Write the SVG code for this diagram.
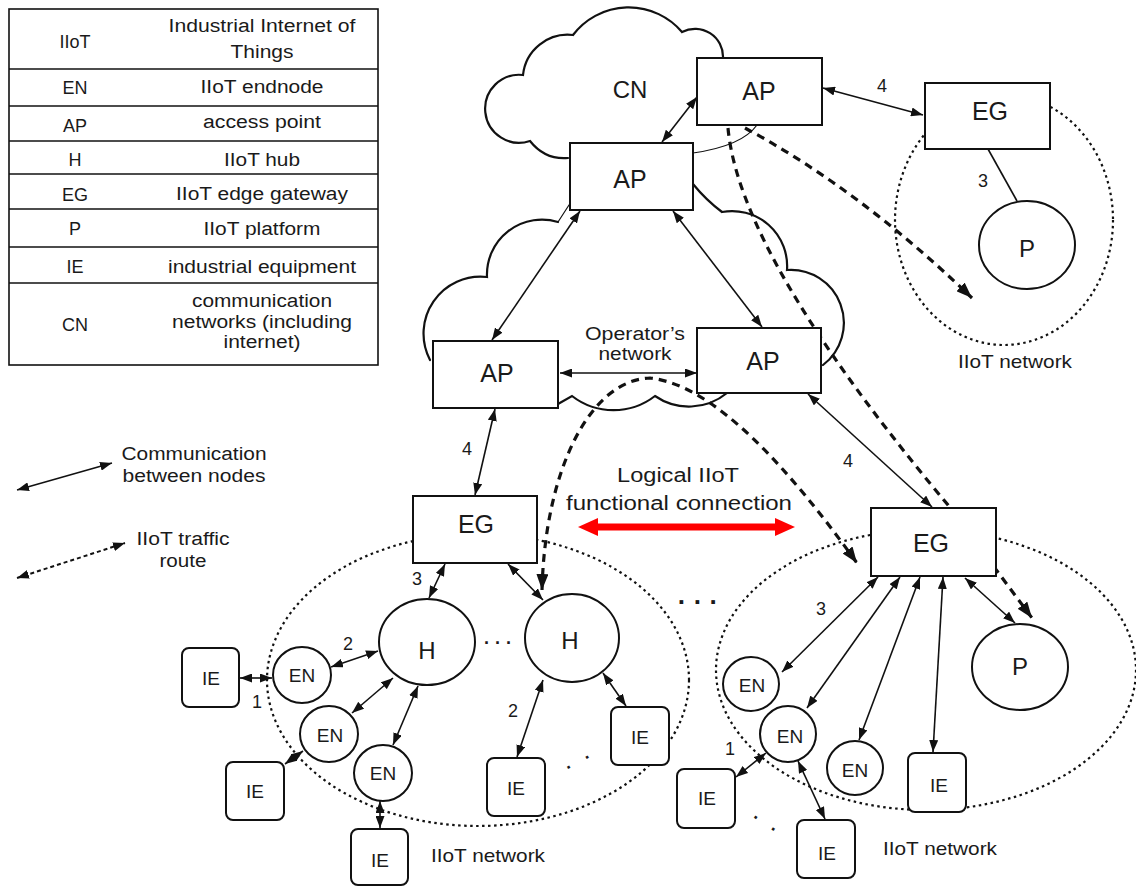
<svg xmlns="http://www.w3.org/2000/svg" width="1136" height="886" viewBox="0 0 1136 886">
  <style>
    .box { fill:#fff; stroke:#111; stroke-width:2; }
    .node { fill:#fff; stroke:#111; stroke-width:2; }
    .cloud { fill:none; stroke:#111; stroke-width:2.2; stroke-linecap:round; }
    .thin { stroke-width:1.2; }
    .net { fill:none; stroke:#111; stroke-width:2.2; stroke-dasharray:2.5 3.5; }
    .link { fill:none; stroke:#111; stroke-width:1.6; marker-start:url(#ah); marker-end:url(#ah); }
    .route { fill:none; stroke:#111; stroke-width:3.2; stroke-dasharray:8 6; }
    .plain { fill:none; stroke:#111; stroke-width:1.6; }
    .t { font-family:"Liberation Sans", Arial, sans-serif; fill:#1a1a1a; text-anchor:middle; }
    .lg { font-size:18px; }
    .lab { font-size:25px; }
    .sm { font-size:19px; }
    .num { font-size:18px; }
    .dots { font-size:18px; font-weight:bold; }
    .wide { word-spacing:10px; }
  </style>
  <defs>
    <marker id="ah" viewBox="0 0 12 9" markerWidth="12" markerHeight="9" refX="12" refY="4.5" orient="auto-start-reverse" markerUnits="userSpaceOnUse">
      <path d="M0,0 L12,4.5 L0,9 z" fill="#111"/>
    </marker>
    <marker id="ahd" viewBox="0 0 16 12" markerWidth="16" markerHeight="12" refX="16" refY="6" orient="auto-start-reverse" markerUnits="userSpaceOnUse">
      <path d="M0,0 L16,6 L0,12 z" fill="#111"/>
    </marker>
    <marker id="ahr" viewBox="0 0 20 18" markerWidth="20" markerHeight="18" refX="4" refY="9" orient="auto-start-reverse" markerUnits="userSpaceOnUse">
      <path d="M0,0 L20,9 L0,18 z" fill="#f00"/>
    </marker>
  </defs>
  <rect width="1136" height="886" fill="#fff"/>

  <!-- abbreviation table -->
  <g id="legend-table">
    <rect x="9" y="9" width="369" height="356" fill="#fff" stroke="#111" stroke-width="1.6"/>
    <g stroke="#111" stroke-width="1.6">
      <line x1="9" y1="69" x2="378" y2="69"/>
      <line x1="9" y1="106" x2="378" y2="106"/>
      <line x1="9" y1="141" x2="378" y2="141"/>
      <line x1="9" y1="174" x2="378" y2="174"/>
      <line x1="9" y1="209" x2="378" y2="209"/>
      <line x1="9" y1="247" x2="378" y2="247"/>
      <line x1="9" y1="283" x2="378" y2="283"/>
    </g>
    <g class="t lg">
      <text x="75" y="48">IIoT</text>
      <text x="75" y="94">EN</text>
      <text x="75" y="132">AP</text>
      <text x="75" y="166">H</text>
      <text x="75" y="201">EG</text>
      <text x="75" y="235">P</text>
      <text x="75" y="273">IE</text>
      <text x="75" y="331">CN</text>
      <text x="262" y="32" textLength="187" lengthAdjust="spacingAndGlyphs">Industrial Internet of</text>
      <text x="262" y="58" textLength="63" lengthAdjust="spacingAndGlyphs">Things</text>
      <text x="262" y="93" textLength="123" lengthAdjust="spacingAndGlyphs">IIoT endnode</text>
      <text x="262" y="128" textLength="118" lengthAdjust="spacingAndGlyphs">access point</text>
      <text x="262" y="166" textLength="76" lengthAdjust="spacingAndGlyphs">IIoT hub</text>
      <text x="262" y="200" textLength="172" lengthAdjust="spacingAndGlyphs">IIoT edge gateway</text>
      <text x="262" y="235" textLength="117" lengthAdjust="spacingAndGlyphs">IIoT platform</text>
      <text x="262" y="273" textLength="188" lengthAdjust="spacingAndGlyphs">industrial equipment</text>
      <text x="262" y="307" textLength="140" lengthAdjust="spacingAndGlyphs">communication</text>
      <text x="262" y="328" textLength="180" lengthAdjust="spacingAndGlyphs">networks (including</text>
      <text x="262" y="348" textLength="77" lengthAdjust="spacingAndGlyphs">internet)</text>
    </g>
  </g>

  <!-- line style key -->
  <g id="legend-lines">
    <line class="link" x1="17" y1="490" x2="112" y2="463"/>
    <line x1="17" y1="578" x2="125" y2="543" fill="none" stroke="#111" stroke-width="2" stroke-dasharray="4 3" marker-start="url(#ah)" marker-end="url(#ah)"/>
    <g class="t lg">
      <text x="194" y="460" textLength="145" lengthAdjust="spacingAndGlyphs">Communication</text>
      <text x="194" y="482" textLength="143" lengthAdjust="spacingAndGlyphs">between nodes</text>
      <text x="183" y="545" textLength="93" lengthAdjust="spacingAndGlyphs">IIoT traffic</text>
      <text x="183" y="567" textLength="47" lengthAdjust="spacingAndGlyphs">route</text>
    </g>
  </g>

  <!-- clouds -->
  <g id="cloud-cn">
    <path class="cloud" d="M568,158 Q545,160 530,141 A34,34 0 1 1 523,75 A45,45 0 0 1 573,35 A70,70 0 0 1 682,32 A28,28 0 0 1 723,58"/>
    <path class="cloud thin" d="M757,125 Q742,146 693,153"/>
    <text class="t" x="630" y="98" font-size="24">CN</text>
  </g>
  <g id="cloud-operator">
    <path class="cloud thin" d="M569,205 L558,222"/>
    <path class="cloud" d="M558,222 A55,55 0 0 0 487,277 A57,57 0 0 0 430,360"/>
    <path class="cloud" d="M558,404 L572,396 A68,68 0 0 0 655,396 A60,60 0 0 0 727,393"/>
    <path class="cloud" d="M693,184 Q706,200 722,212 A55,55 0 0 1 787,270 A53,53 0 0 1 823,365"/>
    <g class="t lg">
      <text x="635" y="340" textLength="100" lengthAdjust="spacingAndGlyphs">Operator’s</text>
      <text x="635" y="360" textLength="73" lengthAdjust="spacingAndGlyphs">network</text>
    </g>
  </g>

  <!-- IIoT network boundaries -->
  <g id="networks">
    <ellipse class="net" cx="1004" cy="220" rx="109" ry="125"/>
    <ellipse class="net" cx="478" cy="680" rx="211" ry="146"/>
    <ellipse class="net" cx="926" cy="670" rx="210" ry="140"/>
    <g class="t sm">
      <text x="1015" y="368" textLength="114" lengthAdjust="spacingAndGlyphs">IIoT network</text>
      <text x="488" y="862" textLength="114" lengthAdjust="spacingAndGlyphs">IIoT network</text>
      <text x="940" y="855" textLength="114" lengthAdjust="spacingAndGlyphs">IIoT network</text>
    </g>
  </g>

  <!-- connectors -->
  <g id="connectors">
    <line class="link" x1="662" y1="142" x2="697" y2="97"/>
    <line class="link" x1="823" y1="88" x2="923" y2="115"/>
    <line class="plain" x1="988" y1="149" x2="1017" y2="201"/>
    <line class="link" x1="580" y1="211" x2="492" y2="340"/>
    <line class="link" x1="673" y1="211" x2="762" y2="327"/>
    <line class="link" x1="560" y1="373" x2="697" y2="373"/>
    <line class="link" x1="495" y1="409" x2="475" y2="495"/>
    <line class="link" x1="808" y1="394" x2="932" y2="507"/>

    <line class="link" x1="445" y1="564" x2="429" y2="598"/>
    <line class="link" x1="508" y1="564" x2="543" y2="600"/>
    <line class="link" x1="378" y1="651" x2="331" y2="667"/>
    <line class="link" x1="240" y1="678" x2="272" y2="678"/>
    <line class="link" x1="393" y1="678" x2="352" y2="713"/>
    <line class="link" x1="303" y1="751" x2="285" y2="764"/>
    <line class="link" x1="418" y1="686" x2="393" y2="745"/>
    <line class="link" x1="380" y1="801" x2="380" y2="828"/>
    <line class="link" x1="543" y1="680" x2="517" y2="757"/>
    <line class="link" x1="603" y1="673" x2="626" y2="706"/>

    <line class="link" x1="878" y1="577" x2="782" y2="672"/>
    <line class="link" x1="900" y1="577" x2="807" y2="708"/>
    <line class="link" x1="920" y1="577" x2="859" y2="740"/>
    <line class="link" x1="943" y1="577" x2="933" y2="752"/>
    <line class="link" x1="965" y1="578" x2="1015" y2="623"/>
    <line class="link" x1="766" y1="753" x2="736" y2="777"/>
    <line class="link" x1="798" y1="761" x2="825" y2="819"/>

    <!-- traffic routes -->
    <path class="route" d="M745,128 Q860,190 972,298" marker-end="url(#ahd)"/>
    <path class="route" d="M728,128 C738,240 860,400 948,505 L1032,618" marker-end="url(#ahd)"/>
    <path class="route" d="M542,590 C545,470 590,380 650,378 C715,385 790,470 857,563" marker-start="url(#ahd)" marker-end="url(#ahd)"/>

    <!-- logical functional connection -->
    <line x1="594" y1="527" x2="779" y2="527" stroke="#f00" stroke-width="7" marker-start="url(#ahr)" marker-end="url(#ahr)"/>
    <g class="t">
      <text x="678" y="482" font-size="20" textLength="122" lengthAdjust="spacingAndGlyphs">Logical IIoT</text>
      <text x="679" y="510" font-size="20" textLength="226" lengthAdjust="spacingAndGlyphs">functional connection</text>
    </g>

    <!-- link numbers -->
    <g class="t num">
      <text x="882" y="92">4</text>
      <text x="983" y="187">3</text>
      <text x="467" y="455">4</text>
      <text x="848" y="467">4</text>
      <text x="417" y="585">3</text>
      <text x="348" y="650">2</text>
      <text x="257" y="708">1</text>
      <text x="513" y="717">2</text>
      <text x="821" y="615">3</text>
      <text x="730" y="755">1</text>
    </g>

    <!-- ellipses -->
    <g class="t dots">
      <text x="498" y="649">· · ·</text>
      <text x="698" y="611" font-size="26">· · ·</text>
      <text class="wide" x="578.5" y="768" transform="rotate(-28 578.5 762.5)">· ·</text>
      <text class="wide" x="764.5" y="829.5" transform="rotate(34 764.5 824)">· ·</text>
    </g>
  </g>

  <!-- access points -->
  <g id="ap-cn">
    <rect class="box" x="697" y="58" width="125" height="67"/>
    <text class="t lab" x="759" y="100">AP</text>
  </g>
  <g id="ap-top">
    <rect class="box" x="570" y="143" width="123" height="67"/>
    <text class="t lab" x="630" y="188">AP</text>
  </g>
  <g id="ap-left">
    <rect class="box" x="433" y="341" width="125" height="67"/>
    <text class="t lab" x="497" y="382">AP</text>
  </g>
  <g id="ap-right">
    <rect class="box" x="697" y="328" width="124" height="65"/>
    <text class="t lab" x="763" y="370">AP</text>
  </g>

  <!-- edge gateways -->
  <g id="eg-top">
    <rect class="box" x="925" y="83" width="125" height="66"/>
    <text class="t lab" x="990" y="120">EG</text>
  </g>
  <g id="eg-left">
    <rect class="box" x="413" y="496" width="124" height="67"/>
    <text class="t lab" x="476" y="533">EG</text>
  </g>
  <g id="eg-right">
    <rect class="box" x="871" y="508" width="125" height="68"/>
    <text class="t lab" x="931" y="552">EG</text>
  </g>

  <!-- platforms -->
  <g id="p-top">
    <ellipse class="node" cx="1027" cy="245" rx="48" ry="44"/>
    <text class="t" x="1027" y="257" font-size="24">P</text>
  </g>
  <g id="p-right">
    <ellipse class="node" cx="1020" cy="667" rx="48" ry="43"/>
    <text class="t" x="1020" y="675" font-size="24">P</text>
  </g>

  <!-- hubs -->
  <g id="hub-1">
    <ellipse class="node" cx="427" cy="642" rx="48" ry="43"/>
    <text class="t" x="427" y="659" font-size="24">H</text>
  </g>
  <g id="hub-2">
    <ellipse class="node" cx="572" cy="638" rx="47" ry="44"/>
    <text class="t" x="570" y="649" font-size="24">H</text>
  </g>

  <!-- end nodes -->
  <g id="en-1">
    <ellipse class="node" cx="302" cy="675" rx="29" ry="28"/>
    <text class="t sm" x="302" y="682">EN</text>
  </g>
  <g id="en-2">
    <ellipse class="node" cx="329" cy="734" rx="29" ry="28"/>
    <text class="t sm" x="330" y="742">EN</text>
  </g>
  <g id="en-3">
    <ellipse class="node" cx="383" cy="773" rx="29" ry="28"/>
    <text class="t sm" x="383" y="780">EN</text>
  </g>
  <g id="en-4">
    <ellipse class="node" cx="751" cy="684" rx="28" ry="27"/>
    <text class="t sm" x="752" y="692">EN</text>
  </g>
  <g id="en-5">
    <ellipse class="node" cx="788" cy="734" rx="28" ry="28"/>
    <text class="t sm" x="790" y="743">EN</text>
  </g>
  <g id="en-6">
    <ellipse class="node" cx="855" cy="768" rx="28" ry="27"/>
    <text class="t sm" x="855" y="777">EN</text>
  </g>

  <!-- industrial equipment -->
  <g id="ie-1">
    <rect class="box" x="182" y="648" width="57" height="59" rx="7"/>
    <text class="t sm" x="211" y="685">IE</text>
  </g>
  <g id="ie-2">
    <rect class="box" x="226" y="762" width="58" height="58" rx="7"/>
    <text class="t sm" x="255" y="798">IE</text>
  </g>
  <g id="ie-3">
    <rect class="box" x="351" y="829" width="57" height="56" rx="7"/>
    <text class="t sm" x="380" y="867">IE</text>
  </g>
  <g id="ie-4">
    <rect class="box" x="487" y="758" width="58" height="58" rx="7"/>
    <text class="t sm" x="516" y="795">IE</text>
  </g>
  <g id="ie-5">
    <rect class="box" x="611" y="707" width="58" height="58" rx="7"/>
    <text class="t sm" x="640" y="744">IE</text>
  </g>
  <g id="ie-6">
    <rect class="box" x="908" y="753" width="58" height="59" rx="7"/>
    <text class="t sm" x="939" y="792">IE</text>
  </g>
  <g id="ie-7">
    <rect class="box" x="677" y="769" width="58" height="59" rx="7"/>
    <text class="t sm" x="707" y="805">IE</text>
  </g>
  <g id="ie-8">
    <rect class="box" x="797" y="820" width="58" height="58" rx="7"/>
    <text class="t sm" x="827" y="860">IE</text>
  </g>
</svg>
